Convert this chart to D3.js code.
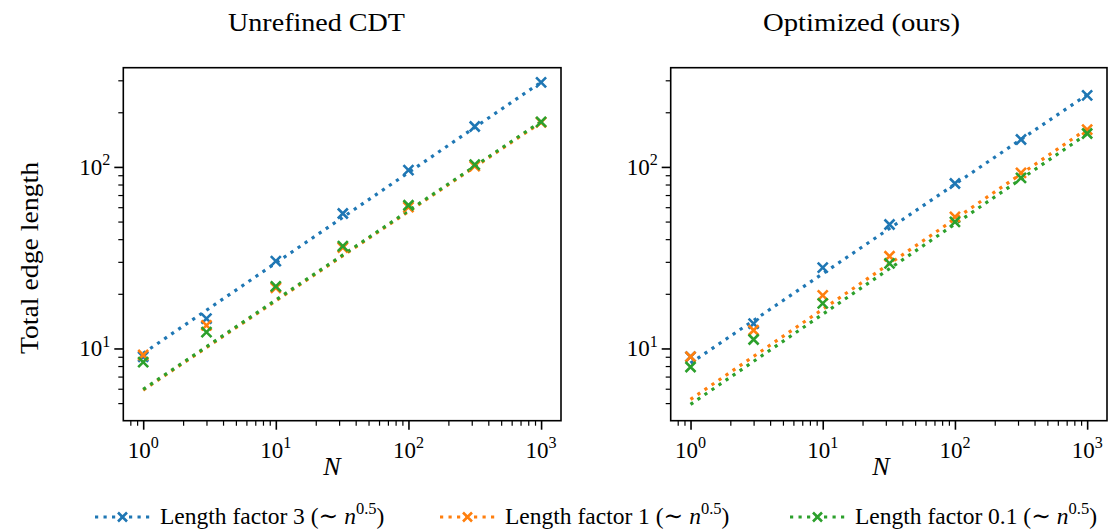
<!DOCTYPE html>
<html><head><meta charset="utf-8">
<script src="https://cdn.jsdelivr.net/npm/d3@7"></script>
<style>
body{margin:0;background:#fff}
svg{display:block}
text{font-family:"Liberation Serif","DejaVu Serif",serif;fill:#000}
</style>
</head><body>
<svg id="chart" width="1108" height="531"></svg>
<script>
// Problem sizes where the meshes were measured
const sampleN = [1, 3, 10, 32, 100, 316, 1000];
const seriesNames = ["Length factor 3", "Length factor 1", "Length factor 0.1"];
const seriesColors = ["#1f77b4", "#ff7f0e", "#2ca02c"];
const panelTitles = ["Unrefined CDT", "Optimized (ours)"];

// Total edge length, unrefined CDT
const cdtFactor3  = [9.0, 14.6, 30.3, 55.4, 96.0, 167.0, 292.0];
const cdtFactor1  = [9.2, 13.4, 21.6, 36.0, 60.0, 101.0, 176.0];
const cdtFactor01 = [8.4, 12.3, 22.0, 36.6, 61.5, 103.0, 177.0];

// Total edge length, optimized meshes
const optFactor3  = [9.0, 13.7, 27.9, 48.2, 81.0, 141.6, 248.0];
const optFactor1  = [9.0, 12.6, 19.6, 32.2, 53.1, 92.7, 160.6];
const optFactor01 = [7.9, 11.2, 17.7, 29.4, 49.8, 87.0, 152.8];

// Power-law fits (~ n^0.5), values at both ends of the N range
const fitN = [1, 1000];
const cdtFit3  = [9.4, 293];
const cdtFit1  = [5.9, 176];
const cdtFit01 = [5.95, 178];
const optFit3  = [8.3, 250];
const optFit1  = [5.24, 162];
const optFit01 = [4.92, 152];

// Axis ticks
const xMajorTicks = [1, 10, 100, 1000];
const xTickExponents = ["0", "1", "2", "3"];
const yMajorTicks = [10, 100];
const yTickExponents = ["1", "2"];
const fitExponentLabel = "0.5";

const panels = [
  {title: panelTitles[0], data: [cdtFactor3, cdtFactor1, cdtFactor01], fits: [cdtFit3, cdtFit1, cdtFit01],
   titleX: 316.5, titleLen: 177, labelX: 332},
  {title: panelTitles[1], data: [optFactor3, optFactor1, optFactor01], fits: [optFit3, optFit1, optFit01],
   titleX: 861.5, titleLen: 197, labelX: 881}
];

const svg = d3.select("#chart");
const plotTop = 67.7, plotBottom = 420.7;
const panelX = [[123.3, 561], [670.7, 1107]];

const y = d3.scaleLog().domain([4.0, 352]).range([plotBottom, plotTop]);

function minorTicks(lo, hi) {
  const out = [];
  for (let e = -1; e <= 4; e++) {
    for (let m = 2; m <= 9; m++) {
      const v = m * Math.pow(10, e);
      if (v > lo && v < hi) out.push(v);
    }
  }
  return out;
}

function powLabel(sel, exp, baseSize) {
  sel.append("tspan").text("10");
  sel.append("tspan").attr("dy", -baseSize * 0.42).attr("font-size", baseSize * 0.7).text(exp);
}

const tickFont = 23;

panels.forEach((p, pi) => {
  const [x0, x1] = panelX[pi];
  const x = d3.scaleLog().domain([0.708, 1413]).range([x0, x1]);
  const g = svg.append("g");

  // clip region for the plotted data
  const clipId = "clip" + pi;
  svg.append("clipPath").attr("id", clipId)
    .append("rect").attr("x", x0).attr("y", plotTop).attr("width", x1 - x0).attr("height", plotBottom - plotTop);

  // x axis ticks
  const xAxisMinor = d3.axisBottom(x).tickValues(minorTicks(0.708, 1413)).tickSize(5).tickFormat("");
  const xAxisMajor = d3.axisBottom(x).tickValues(xMajorTicks).tickSize(9).tickFormat("");
  const gxm = g.append("g").attr("transform", `translate(0,${plotBottom})`).call(xAxisMinor);
  gxm.select(".domain").remove();
  gxm.selectAll("line").attr("stroke-width", 1.2);
  const gxM = g.append("g").attr("transform", `translate(0,${plotBottom})`).call(xAxisMajor);
  gxM.select(".domain").remove();
  gxM.selectAll("line").attr("stroke-width", 1.6);
  xMajorTicks.forEach((v, i) => {
    const t = g.append("text").attr("x", x(v)).attr("y", plotBottom + 37)
      .attr("text-anchor", "middle").attr("font-size", tickFont);
    powLabel(t, xTickExponents[i], tickFont);
  });

  // y axis ticks
  const yAxisMinor = d3.axisLeft(y).tickValues(minorTicks(4.0, 352)).tickSize(5).tickFormat("");
  const yAxisMajor = d3.axisLeft(y).tickValues(yMajorTicks).tickSize(9).tickFormat("");
  const gym = g.append("g").attr("transform", `translate(${x0},0)`).call(yAxisMinor);
  gym.select(".domain").remove();
  gym.selectAll("line").attr("stroke-width", 1.2);
  const gyM = g.append("g").attr("transform", `translate(${x0},0)`).call(yAxisMajor);
  gyM.select(".domain").remove();
  gyM.selectAll("line").attr("stroke-width", 1.6);
  yMajorTicks.forEach((v, i) => {
    const t = g.append("text").attr("x", x0 - 13).attr("y", y(v) + 8)
      .attr("text-anchor", "end").attr("font-size", tickFont);
    powLabel(t, yTickExponents[i], tickFont);
  });

  // fit lines and data markers
  const data = g.append("g").attr("clip-path", `url(#${clipId})`);
  const line = d3.line().x(d => x(d[0])).y(d => y(d[1]));
  p.fits.forEach((f, si) => {
    data.append("path")
      .datum(fitN.map((n, k) => [n, f[k]]))
      .attr("d", line)
      .attr("fill", "none")
      .attr("stroke", seriesColors[si])
      .attr("stroke-width", 3.2)
      .attr("stroke-dasharray", "3.2 5.3");
  });
  p.data.forEach((vals, si) => {
    const s = 5;
    data.selectAll(null).data(sampleN.map((n, k) => [n, vals[k]])).enter()
      .append("path")
      .attr("d", d => {
        const cx = x(d[0]), cy = y(d[1]);
        return `M${cx - s},${cy - s}L${cx + s},${cy + s}M${cx - s},${cy + s}L${cx + s},${cy - s}`;
      })
      .attr("stroke", seriesColors[si])
      .attr("stroke-width", 2.6)
      .attr("fill", "none");
  });

  // frame
  g.append("rect").attr("x", x0).attr("y", plotTop).attr("width", x1 - x0).attr("height", plotBottom - plotTop)
    .attr("fill", "none").attr("stroke", "#000").attr("stroke-width", 1.6);

  // title and x label
  g.append("text").attr("x", p.titleX).attr("y", 31).attr("text-anchor", "middle")
    .attr("font-size", 26).attr("textLength", p.titleLen).attr("lengthAdjust", "spacingAndGlyphs")
    .text(p.title);
  g.append("text").attr("x", p.labelX).attr("y", 475).attr("text-anchor", "middle")
    .attr("font-size", 26).attr("font-style", "italic").text("N");
});

// shared y label
svg.append("text").attr("transform", "translate(38,258) rotate(-90)")
  .attr("text-anchor", "middle").attr("font-size", 26)
  .attr("textLength", 192).attr("lengthAdjust", "spacingAndGlyphs")
  .text("Total edge length");

// legend
const legendX = [95, 440, 790];
const legendY = 517;
seriesNames.forEach((name, si) => {
  const lx = legendX[si];
  const lg = svg.append("g");
  lg.append("line").attr("x1", lx).attr("x2", lx + 55).attr("y1", legendY).attr("y2", legendY)
    .attr("stroke", seriesColors[si]).attr("stroke-width", 3.2).attr("stroke-dasharray", "3.2 5.3");
  const cx = lx + 27.5, s = 4.5;
  lg.append("path").attr("d", `M${cx - s},${legendY - s}L${cx + s},${legendY + s}M${cx - s},${legendY + s}L${cx + s},${legendY - s}`)
    .attr("stroke", seriesColors[si]).attr("stroke-width", 2.6);
  const t = lg.append("text").attr("x", lx + 65).attr("y", legendY + 7).attr("font-size", 23.5);
  t.append("tspan").text(name + " (\u223C ");
  t.append("tspan").attr("font-style", "italic").text("n");
  t.append("tspan").attr("dy", -10).attr("font-size", 16.5).text(fitExponentLabel);
  t.append("tspan").attr("dy", 10).text(")");
});
</script>
</body></html>
